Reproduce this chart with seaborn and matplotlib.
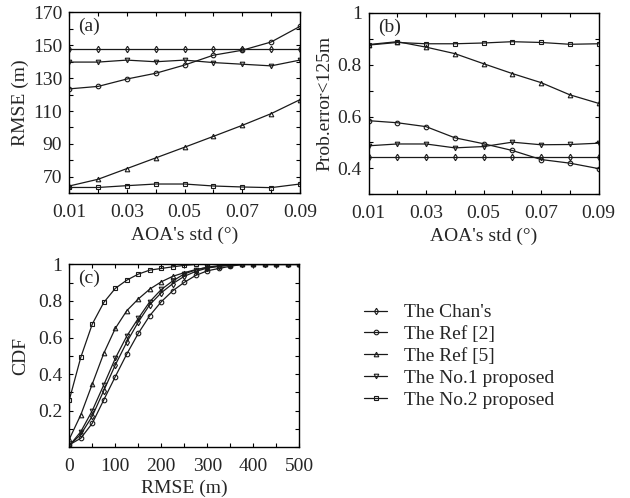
import numpy as np
import pandas as pd
import matplotlib
matplotlib.use("Agg")
import matplotlib.pyplot as plt
import seaborn as sns
from matplotlib.ticker import MultipleLocator

# series names / markers
names = ["The Chan's", "The Ref [2]", "The Ref [5]", "The No.1 proposed", "The No.2 proposed"]
markers = ["d", "o", "^", "v", "s"]

# (a) RMSE vs AOA std
aoa_std = [0.01, 0.02, 0.03, 0.04, 0.05, 0.06, 0.07, 0.08, 0.09]
rmse_chan = [148, 148, 148, 148, 148, 148, 148, 148, 148]
rmse_ref2 = [123.5, 125, 129.5, 133, 138, 144, 147, 152, 161.5]
rmse_ref5 = [64.4, 68.5, 75, 81.5, 88, 94.6, 101.3, 108.4, 116.9]
rmse_no1 = [139.8, 139.8, 141, 140, 141, 139.5, 138.5, 137.5, 141]
rmse_no2 = [63.5, 63.5, 64.6, 65.6, 65.6, 64.4, 63.8, 63.4, 65.6]

# (b) probability error < 125 m
prob_chan = [0.443, 0.443, 0.443, 0.443, 0.443, 0.443, 0.443, 0.443, 0.443]
prob_ref2 = [0.584, 0.576, 0.561, 0.518, 0.495, 0.469, 0.434, 0.42, 0.399]
prob_ref5 = [0.878, 0.889, 0.868, 0.843, 0.804, 0.766, 0.731, 0.684, 0.651]
prob_no1 = [0.487, 0.494, 0.494, 0.479, 0.484, 0.501, 0.491, 0.492, 0.497]
prob_no2 = [0.876, 0.886, 0.881, 0.881, 0.884, 0.889, 0.886, 0.879, 0.881]

# (c) CDF of RMSE
cdf_x = [0, 25, 50, 75, 100, 125, 150, 175, 200, 225, 250, 275, 300, 325, 350,
         375, 400, 425, 450, 475, 500]
cdf_chan = [0.01, 0.07, 0.17, 0.31, 0.45, 0.575, 0.685, 0.78, 0.845, 0.895, 0.935,
            0.962, 0.98, 0.99, 0.996, 1, 1, 1, 1, 1, 1]
cdf_ref2 = [0.013, 0.049, 0.131, 0.259, 0.386, 0.51, 0.623, 0.72, 0.796, 0.856, 0.902,
            0.94, 0.965, 0.978, 0.99, 1, 1, 1, 1, 1, 1]
cdf_ref5 = [0.044, 0.177, 0.346, 0.514, 0.65, 0.747, 0.811, 0.865, 0.905, 0.935, 0.955,
            0.972, 0.983, 0.99, 0.996, 1, 1, 1, 1, 1, 1]
cdf_no1 = [0.008, 0.085, 0.2, 0.341, 0.486, 0.608, 0.705, 0.796, 0.863, 0.91, 0.948,
           0.97, 0.985, 0.993, 0.998, 1, 1, 1, 1, 1, 1]
cdf_no2 = [0.259, 0.492, 0.674, 0.792, 0.869, 0.914, 0.947, 0.969, 0.978, 0.987, 0.995,
           1, 1, 1, 1, 1, 1, 1, 1, 1, 1]

sns.set_style("ticks")
plt.rcParams['font.family'] = ['Liberation Serif', 'DejaVu Serif']

fig = plt.figure(figsize=(6.3, 4.98), dpi=100)
ax_a = fig.add_axes([0.110, 0.612, 0.366, 0.363])
ax_b = fig.add_axes([0.585, 0.610, 0.365, 0.364])
ax_c = fig.add_axes([0.110, 0.102, 0.365, 0.367])

fs = 14


def draw(ax, x, ys):
    for y, name, m in zip(ys, names, markers):
        sns.lineplot(x=x, y=y, ax=ax, color='0.1', lw=0.9, marker=m, markersize=3.3,
                     markerfacecolor='none', markeredgecolor='0.1', markeredgewidth=0.8,
                     label=name, legend=False)


def style(ax):
    ax.tick_params(which='both', direction='in', top=True, right=True,
                   length=3, width=0.8, labelsize=fs, color='black', pad=5)
    ax.tick_params(axis='x', which='both', pad=8)
    for s in ax.spines.values():
        s.set_linewidth(1.0)
        s.set_color('black')


draw(ax_a, aoa_std, [rmse_chan, rmse_ref2, rmse_ref5, rmse_no1, rmse_no2])
ax_a.set_xlim(0.01, 0.09)
ax_a.set_ylim(60, 170)
ax_a.set_xticks([0.01, 0.03, 0.05, 0.07, 0.09])
ax_a.set_xticklabels(["0.01", "0.03", "0.05", "0.07", "0.09"])
ax_a.xaxis.set_minor_locator(MultipleLocator(0.01))
ax_a.set_yticks([70, 90, 110, 130, 150, 170])
ax_a.yaxis.set_minor_locator(MultipleLocator(10))
ax_a.set_xlabel("AOA's std (°)", fontsize=fs, labelpad=4)
ax_a.set_ylabel("RMSE (m)", fontsize=fs, labelpad=3)
ax_a.text(0.04, 0.97, "(a)", transform=ax_a.transAxes, fontsize=fs, va='top')
style(ax_a)

draw(ax_b, aoa_std, [prob_chan, prob_ref2, prob_ref5, prob_no1, prob_no2])
ax_b.set_xlim(0.01, 0.09)
ax_b.set_ylim(0.3, 1)
ax_b.set_xticks([0.01, 0.03, 0.05, 0.07, 0.09])
ax_b.set_xticklabels(["0.01", "0.03", "0.05", "0.07", "0.09"])
ax_b.xaxis.set_minor_locator(MultipleLocator(0.01))
ax_b.set_yticks([0.4, 0.6, 0.8, 1.0])
ax_b.set_yticklabels(["0.4", "0.6", "0.8", "1"])
ax_b.yaxis.set_minor_locator(MultipleLocator(0.1))
ax_b.set_xlabel("AOA's std (°)", fontsize=fs, labelpad=4)
ax_b.set_ylabel("Prob.error<125m", fontsize=fs, labelpad=3)
ax_b.text(0.04, 0.97, "(b)", transform=ax_b.transAxes, fontsize=fs, va='top')
style(ax_b)

draw(ax_c, cdf_x, [cdf_chan, cdf_ref2, cdf_ref5, cdf_no1, cdf_no2])
ax_c.set_xlim(0, 500)
ax_c.set_ylim(0, 1)
ax_c.set_xticks([0, 100, 200, 300, 400, 500])
ax_c.xaxis.set_minor_locator(MultipleLocator(50))
ax_c.set_yticks([0.2, 0.4, 0.6, 0.8, 1.0])
ax_c.set_yticklabels(["0.2", "0.4", "0.6", "0.8", "1"])
ax_c.yaxis.set_minor_locator(MultipleLocator(0.1))
ax_c.set_xlabel("RMSE (m)", fontsize=fs, labelpad=3)
ax_c.set_ylabel("CDF", fontsize=fs, labelpad=6)
ax_c.text(0.04, 0.97, "(c)", transform=ax_c.transAxes, fontsize=fs, va='top')
style(ax_c)

handles, labels = ax_c.get_legend_handles_labels()
fig.legend(handles, labels, loc='upper left', bbox_to_anchor=(0.578, 0.390),
           frameon=False, fontsize=fs, handlelength=1.2, handletextpad=0.85,
           labelspacing=0.22, borderpad=0, borderaxespad=0)

fig.savefig("out.png", dpi=100)
